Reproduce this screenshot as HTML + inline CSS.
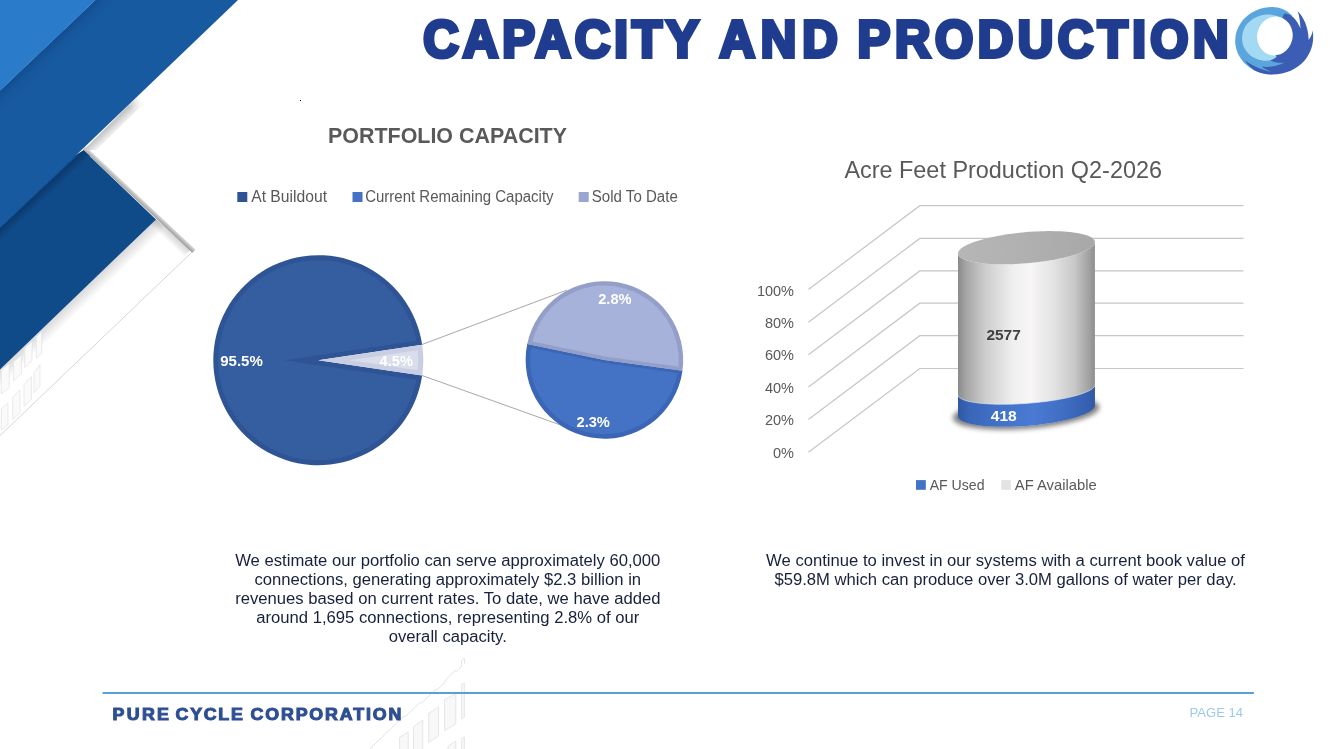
<!DOCTYPE html>
<html lang="en">
<head>
<meta charset="utf-8">
<title>Capacity and Production</title>
<style>
html,body{margin:0;padding:0;background:#fff;}
body{width:1333px;height:749px;overflow:hidden;position:relative;font-family:"Liberation Sans",sans-serif;}
svg{position:absolute;left:0;top:0;display:block;}
text{font-family:"Liberation Sans",sans-serif;}
.cal{fill:#595959;font-size:15.6px;}
.para{fill:#17213b;font-size:16.65px;text-anchor:middle;}
</style>
</head>
<body>
<svg width="1333" height="749" viewBox="0 0 1333 749">
<defs>
<linearGradient id="gEdge" gradientUnits="userSpaceOnUse" x1="85.8" y1="146.6" x2="83" y2="149.6">
  <stop offset="0" stop-color="#dcdcdc"/><stop offset="0.5" stop-color="#c2c2c2"/><stop offset="1" stop-color="#a4a4a4"/>
</linearGradient>
<linearGradient id="gStripeIn" gradientUnits="userSpaceOnUse" x1="156" y1="219" x2="150" y2="225.4">
  <stop offset="0" stop-color="#000" stop-opacity="0.16"/><stop offset="1" stop-color="#000" stop-opacity="0"/>
</linearGradient>
<linearGradient id="gInner" gradientUnits="userSpaceOnUse" x1="78" y1="294.4" x2="87" y2="303.8">
  <stop offset="0" stop-color="#000" stop-opacity="0.15"/><stop offset="1" stop-color="#000" stop-opacity="0"/>
</linearGradient>
<linearGradient id="gBandSh" gradientUnits="userSpaceOnUse" x1="110" y1="124.4" x2="118.5" y2="133.3">
  <stop offset="0" stop-color="#c2c2c2"/><stop offset="0.5" stop-color="#e4e4e4"/><stop offset="1" stop-color="#ffffff"/>
</linearGradient>
<linearGradient id="gBandFade" gradientUnits="userSpaceOnUse" x1="138" y1="96" x2="128" y2="106">
  <stop offset="0" stop-color="#000"/><stop offset="1" stop-color="#fff"/>
</linearGradient>
<mask id="mBandSh" maskUnits="userSpaceOnUse" x="60" y="60" width="120" height="120"><rect x="60" y="60" width="120" height="120" fill="url(#gBandFade)"/></mask>
<linearGradient id="gSh2" gradientUnits="userSpaceOnUse" x1="40" y1="190" x2="47" y2="197.5">
  <stop offset="0" stop-color="#0a376b"/><stop offset="1" stop-color="#104b89"/>
</linearGradient>
<linearGradient id="gSh1" gradientUnits="userSpaceOnUse" x1="47" y1="46" x2="57.5" y2="57">
  <stop offset="0" stop-color="#124d90"/><stop offset="0.5" stop-color="#16569a"/><stop offset="1" stop-color="#185a9f"/>
</linearGradient>
<linearGradient id="gBody" gradientUnits="userSpaceOnUse" x1="958.0" y1="0" x2="1094.9" y2="0">
<stop offset="0" stop-color="#8a8a8a"/><stop offset="0.06" stop-color="#a6a6a6"/><stop offset="0.2" stop-color="#cdcdcd"/><stop offset="0.4" stop-color="#efefef"/><stop offset="0.53" stop-color="#f8f6f6"/><stop offset="0.68" stop-color="#e6e6e6"/><stop offset="0.85" stop-color="#c8c8c8"/><stop offset="0.95" stop-color="#a4a4a4"/><stop offset="1" stop-color="#8e8e8e"/>
</linearGradient>
<linearGradient id="gBlue" gradientUnits="userSpaceOnUse" x1="958.0" y1="0" x2="1094.9" y2="0">
<stop offset="0" stop-color="#2f57a3"/><stop offset="0.08" stop-color="#3a66b8"/><stop offset="0.3" stop-color="#4271c8"/><stop offset="0.55" stop-color="#4a7ad3"/><stop offset="0.8" stop-color="#3f6cc0"/><stop offset="0.95" stop-color="#3560b0"/><stop offset="1" stop-color="#2f57a3"/>
</linearGradient>
<linearGradient id="gTop" gradientUnits="userSpaceOnUse" x1="958.0" y1="0" x2="1094.9" y2="0">
<stop offset="0" stop-color="#b6b6b6"/><stop offset="0.5" stop-color="#b0b0b0"/><stop offset="1" stop-color="#a8a8a8"/>
</linearGradient>
<filter id="fBlur" x="-20%" y="-50%" width="140%" height="200%"><feGaussianBlur stdDeviation="2.4"/></filter>
<!--DEFS-->
</defs>
<g id="bg">
  <!-- outer white paper with edge -->
  <polygon points="84.6,148 193.8,249.9 0,435.6 0,148" fill="#ffffff"/>
  <line x1="193.8" y1="250.4" x2="0" y2="435.6" stroke="#d6d6d6" stroke-width="1"/>
  <!-- inner soft shadow along stripe -->
  <polygon points="83,149.6 85.8,146.6 195.6,249.8 192.2,252.8" fill="url(#gEdge)"/>
  <!-- inner paper soft shadow -->
  <polygon points="156,219.4 166,229 0,389 0,369.4" fill="url(#gInner)"/>
  <polygon points="150,224 156,219 190,250.5 184,256" fill="url(#gStripeIn)"/>
  <!-- building sketch left -->
  <g fill="#fafafa" stroke="#e2e2e2" stroke-width="0.7">
    <polygon points="1.3,370 9.3,363.4 9.3,387.4 1.3,394"/>
    <polygon points="13.4,362 21.4,355.3 21.4,374 13.4,380.7"/>
    <polygon points="24.7,348 32,341.5 32,360.7 24.7,367.4"/>
    <polygon points="36.3,336.5 41.7,331.5 41.7,353.4 36.3,358.4"/>
    <polygon points="1.3,408.7 8,403.4 8,424.8 1.3,430.1"/>
    <polygon points="12.7,397.4 20,390 20,412.7 12.7,419.4"/>
    <polygon points="24,384.7 31.4,376.7 31.4,399.4 24,406.1"/>
    <polygon points="34,372.7 40,364.7 40,386 34,392.7"/>
  </g>
  <!-- soft shadow right of medium band -->
  <polygon points="146,88 160,88 96,150 83.5,150.2" fill="url(#gBandSh)" mask="url(#mBandSh)"/>
  <!-- dark blue -->
  <polygon points="83.5,150.2 156,219.4 0,369.4 0,200" fill="#104b89"/>
  <!-- medium band shadow on dark blue -->
  <polygon points="0,228 83.5,150.2 90,156 0,242" fill="url(#gSh2)"/>
  <!-- medium blue band -->
  <polygon points="95.6,0 238,0 0,228 0,90.7" fill="#185a9f"/>
  <polygon points="95.6,0 118,0 0,112 0,90.7" fill="url(#gSh1)"/>
  <!-- light blue -->
  <polygon points="0,0 95.6,0 0,90.7" fill="#2a7bca"/>
  <!-- building sketch bottom -->
  <g fill="#f8f8f8" stroke="#dedede" stroke-width="0.7">
    <polygon points="444.5,699.6 455.8,693.6 455.8,724 444.5,730.6"/>
    <polygon points="428.7,713.5 438.6,706.8 438.6,735.9 428.7,742.5"/>
    <polygon points="413.5,726.7 422.7,720.1 422.7,750 413.5,750"/>
    <polygon points="399.6,737.3 408.2,732 408.2,750 399.6,750"/>
    <polygon points="461.7,684.4 464.4,683 464.4,717.4 461.7,718.7"/>
    <polygon points="461.7,738.4 464.4,737 464.4,750 461.7,750"/>
    <polygon points="448,746 455.8,741 455.8,750 448,750"/>
  </g>
  <polyline points="369.8,749 404,716 405.4,716.6 420,702.5 421.4,703.1 436,689 437.4,689.6 445,682.3 445,680.4 455,670.8 456.4,671.4 461.4,666.6 461.4,661 464.4,658 464.4,663.5" fill="none" stroke="#dcdcdc" stroke-width="0.8"/>
</g>
<!--BG-->
<text id="ttl" transform="translate(423.2,57.3) scale(0.96,1)" font-size="51.2" font-weight="bold" fill="#1f3c8e" stroke="#1f3c8e" stroke-width="4.0" stroke-linejoin="miter"><tspan x="0.00" textLength="287.08" lengthAdjust="spacing">CAPACITY</tspan> <tspan x="308.54" textLength="123.33" lengthAdjust="spacing">AND</tspan> <tspan x="452.50" textLength="386.46" lengthAdjust="spacing">PRODUCTION</tspan></text>
<!--TITLE-->
<g id="logo">
  <path d="M1292.4,16 C1287,10 1279.5,7 1272.2,7 C1251.8,7 1235.2,22.1 1235.2,40.8 C1235.2,59.5 1251.8,74.6 1272.2,74.6 Z" fill="#5ba5dd"/>
  <path d="M1284,13.6 C1290.5,13.5 1297,19.5 1300.4,28.4 C1300.2,22 1299.4,16 1297.7,11.3 C1303.5,17 1308.4,27 1308.7,40 C1310.8,37 1312.2,33.8 1312.7,30.4 C1314.4,42 1311.5,52 1305,60 C1297.5,69 1285.5,74.6 1272.2,74.6 C1258.5,74.6 1247.5,68 1243.5,57 C1252,64.5 1262,64.5 1270.5,60.4 L1275,40 Z" fill="#3b5db3"/>
  <path d="M1238,50 C1240,55 1243,59 1246.1,61.3 C1251,64.8 1260,69.6 1271.9,71.9 C1268,70.6 1264.4,68.8 1261.7,66.5 C1269,67.8 1278,66 1284.7,62.4 C1279.5,63.2 1275,62.5 1270.5,60.4 L1255,48 Z" fill="#5ba5dd"/>
  <path d="M1285.4,20.6 C1272,8.6 1244,15 1242.2,36.8 C1241,49.5 1252,60.6 1266.5,60.8 C1270.5,60.6 1274,59.2 1276.6,57 L1270,45 Z" fill="#a3d9f2"/>
  <ellipse cx="1274.9" cy="36" rx="17.7" ry="19.5" transform="rotate(14 1274.9 36)" fill="#ffffff"/>
</g>
<!--LOGO-->
<g id="pie">
<line x1="421.8" y1="344.6" x2="566.7" y2="290.2" stroke="#a8a8a8" stroke-width="1"/>
<line x1="421.8" y1="375.4" x2="566.7" y2="427.2" stroke="#a8a8a8" stroke-width="1"/>
<path d="M318.3,360.2 L422.17,344.86 A105,105 0 1 0 422.17,375.54 Z" fill="#2f5496"/>
<path d="M284.07,360.2 L416.37,340.66 A100.0,100.0 0 1 0 416.37,379.74 Z" fill="#355ea1"/>
<path d="M318.3,360.2 L422.17,344.86 A105,105 0 0 1 422.17,375.54 Z" fill="#c9cee2"/>
<path d="M349.79,360.2 L417.79,350.16 A100,100 0 0 1 417.79,370.24 Z" fill="#d9ddec"/>
<path d="M604.4,359.9 L682.46,370.69 A78.8,78.8 0 0 0 527.24,343.93 Z" fill="#939fc8"/>
<path d="M604.4,359.9 L527.24,343.93 A78.8,78.8 0 1 0 682.46,370.69 Z" fill="#3b65b5"/>
<clipPath id="cp2"><circle cx="604.4" cy="359.9" r="74.3"/></clipPath>
<polygon clip-path="url(#cp2)" points="605.00,356.45 512.51,337.31 512.51,159.90 698.55,159.90 698.55,369.38" fill="#a6b2d9"/>
<polygon clip-path="url(#cp2)" points="603.89,362.86 511.19,343.67 511.19,559.90 697.66,559.90 697.66,375.82" fill="#4472c4"/>
</g>
<g id="pietext" font-weight="bold" font-size="14.5" fill="#ffffff">
<text x="220.2" y="366.1" textLength="42.6" lengthAdjust="spacingAndGlyphs">95.5%</text>
<text x="379.6" y="366.1" textLength="33.4" lengthAdjust="spacingAndGlyphs">4.5%</text>
<text x="598.2" y="303.9" textLength="33.4" lengthAdjust="spacingAndGlyphs">2.8%</text>
<text x="576.5" y="426.9" textLength="33.4" lengthAdjust="spacingAndGlyphs">2.3%</text>
</g>
<text x="328" y="143.3" font-size="22" font-weight="bold" fill="#595959" textLength="239" lengthAdjust="spacingAndGlyphs">PORTFOLIO CAPACITY</text>
<g id="pielegend" class="cal">
<rect x="237.3" y="192" width="10" height="10" fill="#2f5496"/>
<text x="251.2" y="202.4" textLength="75.8" lengthAdjust="spacingAndGlyphs">At Buildout</text>
<rect x="352.5" y="192" width="10" height="10" fill="#4472c4"/>
<text x="365.2" y="202.4" textLength="188.4" lengthAdjust="spacingAndGlyphs">Current Remaining Capacity</text>
<rect x="578.7" y="192" width="10" height="10" fill="#98a6d0"/>
<text x="591.8" y="202.4" textLength="86" lengthAdjust="spacingAndGlyphs">Sold To Date</text>
</g>
<!--PIE-->
<g id="cyl">
<polyline points="808.4,289.5 919.8,205.7 1243.5,205.7" fill="none" stroke="#c6c6c6" stroke-width="1.2"/>
<polyline points="808.4,322.2 919.8,238.4 1243.5,238.4" fill="none" stroke="#c6c6c6" stroke-width="1.2"/>
<polyline points="808.4,354.7 919.8,270.9 1243.5,270.9" fill="none" stroke="#c6c6c6" stroke-width="1.2"/>
<polyline points="808.4,387.0 919.8,303.2 1243.5,303.2" fill="none" stroke="#c6c6c6" stroke-width="1.2"/>
<polyline points="808.4,419.5 919.8,335.7 1243.5,335.7" fill="none" stroke="#c6c6c6" stroke-width="1.2"/>
<polyline points="808.4,452.3 919.8,368.5 1243.5,368.5" fill="none" stroke="#c6c6c6" stroke-width="1.2"/>
<ellipse cx="1025.95" cy="412.45" rx="73.45000000000005" ry="16.2" transform="rotate(-4.4 1026.45 410.65)" fill="#000" opacity="0.5" filter="url(#fBlur)"/>
<polygon points="1094.90,405.30 1094.81,406.11 1094.53,406.93 1094.06,407.76 1093.40,408.60 1092.57,409.44 1091.55,410.29 1090.35,411.14 1088.98,411.99 1087.44,412.83 1085.73,413.67 1083.86,414.50 1081.83,415.31 1079.65,416.12 1077.32,416.91 1074.85,417.69 1072.25,418.44 1069.53,419.17 1066.68,419.88 1063.73,420.57 1060.68,421.23 1057.53,421.85 1054.29,422.45 1050.98,423.02 1047.60,423.55 1044.17,424.04 1040.68,424.50 1037.16,424.92 1033.60,425.31 1030.03,425.65 1026.45,425.95 1022.87,426.21 1019.30,426.43 1015.74,426.60 1012.22,426.73 1008.73,426.81 1005.30,426.85 1001.92,426.85 998.61,426.80 995.37,426.71 992.23,426.58 989.17,426.40 986.22,426.17 983.37,425.91 980.65,425.60 978.05,425.25 975.58,424.86 973.25,424.44 971.07,423.97 969.04,423.47 967.17,422.93 965.46,422.36 963.92,421.76 962.55,421.13 961.35,420.47 960.33,419.78 959.50,419.06 958.84,418.33 958.37,417.57 958.09,416.79 958.00,416.00 958.00,253.40 958.09,254.21 958.37,255.00 958.84,255.77 959.50,256.52 960.33,257.24 961.35,257.94 962.55,258.61 963.92,259.25 965.46,259.86 967.17,260.44 969.04,260.98 971.07,261.48 973.25,261.95 975.58,262.37 978.05,262.76 980.65,263.11 983.37,263.41 986.22,263.67 989.17,263.89 992.23,264.06 995.37,264.19 998.61,264.27 1001.92,264.31 1005.30,264.30 1008.73,264.24 1012.22,264.14 1015.74,264.00 1019.30,263.81 1022.87,263.58 1026.45,263.30 1030.03,262.98 1033.60,262.62 1037.16,262.22 1040.68,261.77 1044.17,261.29 1047.60,260.78 1050.98,260.22 1054.29,259.63 1057.53,259.01 1060.68,258.36 1063.73,257.68 1066.68,256.97 1069.53,256.24 1072.25,255.48 1074.85,254.70 1077.32,253.90 1079.65,253.09 1081.83,252.26 1083.86,251.42 1085.73,250.56 1087.44,249.70 1088.98,248.84 1090.35,247.97 1091.55,247.10 1092.57,246.23 1093.40,245.37 1094.06,244.51 1094.53,243.66 1094.81,242.82 1094.90,242.00" fill="url(#gBody)"/>
<polygon points="1094.90,405.30 1094.81,406.11 1094.53,406.93 1094.06,407.76 1093.40,408.60 1092.57,409.44 1091.55,410.29 1090.35,411.14 1088.98,411.99 1087.44,412.83 1085.73,413.67 1083.86,414.50 1081.83,415.31 1079.65,416.12 1077.32,416.91 1074.85,417.69 1072.25,418.44 1069.53,419.17 1066.68,419.88 1063.73,420.57 1060.68,421.23 1057.53,421.85 1054.29,422.45 1050.98,423.02 1047.60,423.55 1044.17,424.04 1040.68,424.50 1037.16,424.92 1033.60,425.31 1030.03,425.65 1026.45,425.95 1022.87,426.21 1019.30,426.43 1015.74,426.60 1012.22,426.73 1008.73,426.81 1005.30,426.85 1001.92,426.85 998.61,426.80 995.37,426.71 992.23,426.58 989.17,426.40 986.22,426.17 983.37,425.91 980.65,425.60 978.05,425.25 975.58,424.86 973.25,424.44 971.07,423.97 969.04,423.47 967.17,422.93 965.46,422.36 963.92,421.76 962.55,421.13 961.35,420.47 960.33,419.78 959.50,419.06 958.84,418.33 958.37,417.57 958.09,416.79 958.00,416.00 958.00,394.80 958.09,395.50 958.37,396.19 958.84,396.87 959.50,397.52 960.33,398.15 961.35,398.76 962.55,399.34 963.92,399.90 965.46,400.43 967.17,400.93 969.04,401.40 971.07,401.84 973.25,402.24 975.58,402.62 978.05,402.95 980.65,403.25 983.37,403.52 986.22,403.74 989.17,403.93 992.23,404.08 995.37,404.19 998.61,404.26 1001.92,404.29 1005.30,404.28 1008.73,404.23 1012.22,404.14 1015.74,404.01 1019.30,403.85 1022.87,403.64 1026.45,403.40 1030.03,403.12 1033.60,402.80 1037.16,402.45 1040.68,402.06 1044.17,401.64 1047.60,401.19 1050.98,400.70 1054.29,400.19 1057.53,399.65 1060.68,399.08 1063.73,398.48 1066.68,397.86 1069.53,397.22 1072.25,396.56 1074.85,395.88 1077.32,395.18 1079.65,394.47 1081.83,393.75 1083.86,393.01 1085.73,392.27 1087.44,391.52 1088.98,390.76 1090.35,390.01 1091.55,389.25 1092.57,388.49 1093.40,387.74 1094.06,386.99 1094.53,386.25 1094.81,385.52 1094.90,384.80" fill="url(#gBlue)"/>
<polyline points="958.00,394.80 958.09,395.50 958.37,396.19 958.84,396.87 959.50,397.52 960.33,398.15 961.35,398.76 962.55,399.34 963.92,399.90 965.46,400.43 967.17,400.93 969.04,401.40 971.07,401.84 973.25,402.24 975.58,402.62 978.05,402.95 980.65,403.25 983.37,403.52 986.22,403.74 989.17,403.93 992.23,404.08 995.37,404.19 998.61,404.26 1001.92,404.29 1005.30,404.28 1008.73,404.23 1012.22,404.14 1015.74,404.01 1019.30,403.85 1022.87,403.64 1026.45,403.40 1030.03,403.12 1033.60,402.80 1037.16,402.45 1040.68,402.06 1044.17,401.64 1047.60,401.19 1050.98,400.70 1054.29,400.19 1057.53,399.65 1060.68,399.08 1063.73,398.48 1066.68,397.86 1069.53,397.22 1072.25,396.56 1074.85,395.88 1077.32,395.18 1079.65,394.47 1081.83,393.75 1083.86,393.01 1085.73,392.27 1087.44,391.52 1088.98,390.76 1090.35,390.01 1091.55,389.25 1092.57,388.49 1093.40,387.74 1094.06,386.99 1094.53,386.25 1094.81,385.52 1094.90,384.80" fill="none" stroke="#dfe8f7" stroke-width="0.8" opacity="0.8"/>
<polygon points="1094.90,242.00 1094.81,242.82 1094.53,243.66 1094.06,244.51 1093.40,245.37 1092.57,246.23 1091.55,247.10 1090.35,247.97 1088.98,248.84 1087.44,249.70 1085.73,250.56 1083.86,251.42 1081.83,252.26 1079.65,253.09 1077.32,253.90 1074.85,254.70 1072.25,255.48 1069.53,256.24 1066.68,256.97 1063.73,257.68 1060.68,258.36 1057.53,259.01 1054.29,259.63 1050.98,260.22 1047.60,260.78 1044.17,261.29 1040.68,261.77 1037.16,262.22 1033.60,262.62 1030.03,262.98 1026.45,263.30 1022.87,263.58 1019.30,263.81 1015.74,264.00 1012.22,264.14 1008.73,264.24 1005.30,264.30 1001.92,264.31 998.61,264.27 995.37,264.19 992.23,264.06 989.17,263.89 986.22,263.67 983.37,263.41 980.65,263.11 978.05,262.76 975.58,262.37 973.25,261.95 971.07,261.48 969.04,260.98 967.17,260.44 965.46,259.86 963.92,259.25 962.55,258.61 961.35,257.94 960.33,257.24 959.50,256.52 958.84,255.77 958.37,255.00 958.09,254.21 958.00,253.40 958.09,252.58 958.37,251.74 958.84,250.89 959.50,250.03 960.33,249.17 961.35,248.30 962.55,247.43 963.92,246.56 965.46,245.70 967.17,244.84 969.04,243.98 971.07,243.14 973.25,242.31 975.58,241.50 978.05,240.70 980.65,239.92 983.37,239.16 986.22,238.43 989.17,237.72 992.23,237.04 995.37,236.39 998.61,235.77 1001.92,235.18 1005.30,234.62 1008.73,234.11 1012.22,233.63 1015.74,233.18 1019.30,232.78 1022.87,232.42 1026.45,232.10 1030.03,231.82 1033.60,231.59 1037.16,231.40 1040.68,231.26 1044.17,231.16 1047.60,231.10 1050.98,231.09 1054.29,231.13 1057.53,231.21 1060.68,231.34 1063.73,231.51 1066.68,231.73 1069.53,231.99 1072.25,232.29 1074.85,232.64 1077.32,233.03 1079.65,233.45 1081.83,233.92 1083.86,234.42 1085.73,234.96 1087.44,235.54 1088.98,236.15 1090.35,236.79 1091.55,237.46 1092.57,238.16 1093.40,238.88 1094.06,239.63 1094.53,240.40 1094.81,241.19 1094.90,242.00" fill="url(#gTop)"/>
</g>
<text x="844.4" y="178.1" font-size="23.4" fill="#595959" textLength="317.6" lengthAdjust="spacingAndGlyphs">Acre Feet Production Q2-2026</text>
<g id="axis" class="cal" font-size="14.5" style="font-size:14.5px" text-anchor="end">
<text x="794" y="295.7">100%</text>
<text x="794" y="328.1">80%</text>
<text x="794" y="360.4">60%</text>
<text x="794" y="392.9">40%</text>
<text x="794" y="425.3">20%</text>
<text x="794" y="457.9">0%</text>
</g>
<text x="986.4" y="340.2" font-size="14.5" font-weight="bold" fill="#404040" textLength="34.4" lengthAdjust="spacingAndGlyphs">2577</text>
<text x="990.8" y="420.8" font-size="14.5" font-weight="bold" fill="#ffffff" textLength="26" lengthAdjust="spacingAndGlyphs">418</text>
<g id="cyllegend" class="cal" style="font-size:14.5px">
<rect x="916" y="480.1" width="9.8" height="9.7" fill="#4472c4"/>
<text x="929.7" y="489.8" textLength="54.8" lengthAdjust="spacingAndGlyphs">AF Used</text>
<rect x="1001.2" y="480.1" width="9.6" height="9.7" fill="#e3e3e3"/>
<text x="1014.8" y="489.8" textLength="82" lengthAdjust="spacingAndGlyphs">AF Available</text>
</g>
<!--CYL-->
<g id="para1" class="para">
<text x="447.8" y="565.9">We estimate our portfolio can serve approximately 60,000</text>
<text x="447.8" y="585.0">connections, generating approximately $2.3 billion in</text>
<text x="447.8" y="604.2">revenues based on current rates. To date, we have added</text>
<text x="447.8" y="623.3">around 1,695 connections, representing 2.8% of our</text>
<text x="447.8" y="642.4">overall capacity.</text>
</g>
<g id="para2" class="para">
<text x="1005.5" y="565.9">We continue to invest in our systems with a current book value of</text>
<text x="1005.5" y="585.0">$59.8M which can produce over 3.0M gallons of water per day.</text>
</g>
<rect x="300" y="100" width="1" height="1" fill="#000"/>
<!--TEXT-->
<g id="footer">
<line x1="102.6" y1="693" x2="1253.9" y2="693" stroke="#5a9fd6" stroke-width="2"/>
<text id="ftr" transform="translate(112.4,719.5) scale(1.12,1)" y="0" font-size="15.9" font-weight="bold" fill="#2e4f93" stroke="#2e4f93" stroke-width="1.0"><tspan x="0.00" textLength="50.54" lengthAdjust="spacing">PURE</tspan> <tspan x="56.43" textLength="60.00" lengthAdjust="spacing">CYCLE</tspan> <tspan x="123.30" textLength="134.64" lengthAdjust="spacing">CORPORATION</tspan></text>
<text x="1189.6" y="716.9" font-size="13.1" fill="#9ccbe8" textLength="53.4" lengthAdjust="spacingAndGlyphs">PAGE 14</text>
</g>
<!--FOOTER-->
</svg>
</body>
</html>
